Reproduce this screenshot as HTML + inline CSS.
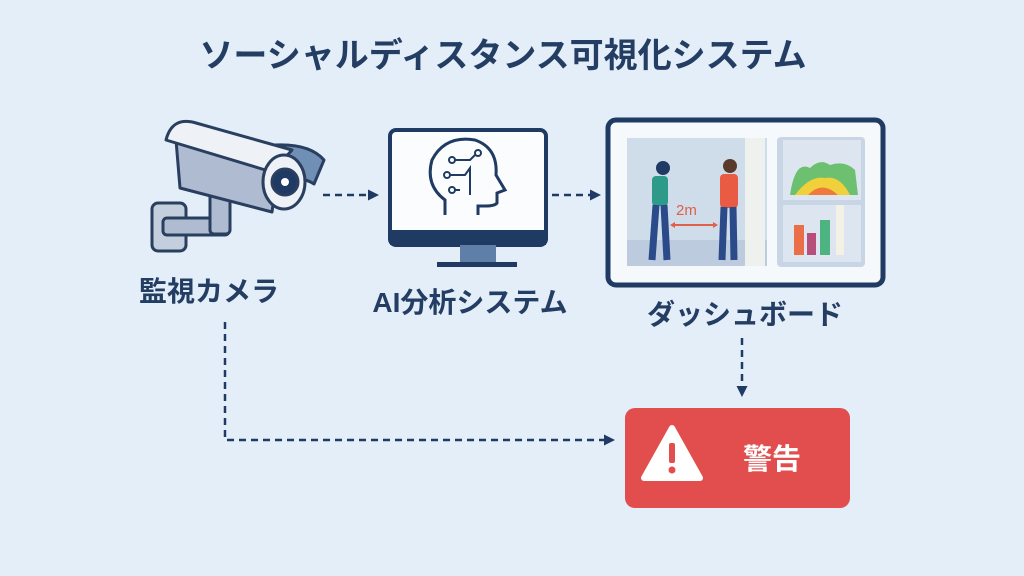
<!DOCTYPE html>
<html><head><meta charset="utf-8"><style>
body{margin:0;width:1024px;height:576px;overflow:hidden;background:#e3eef9;font-family:"Liberation Sans","Noto Sans CJK JP",sans-serif;}
.t{position:absolute;font-weight:bold;color:#243d63;white-space:nowrap;transform:translateX(-50%);}
</style></head><body>
<div class="t" style="left:503px;top:28px;font-size:34px;">ソーシャルディスタンス可視化システム</div>
<div class="t" style="left:209px;top:270px;font-size:28px;">監視カメラ</div>
<div class="t" style="left:470px;top:281px;font-size:28px;">AI分析システム</div>
<div class="t" style="left:745px;top:293px;font-size:28px;">ダッシュボード</div>
<svg width="1024" height="576" style="position:absolute;left:0;top:0">
<defs><marker id="a" markerWidth="11" markerHeight="11" refX="8" refY="5.5" orient="auto" markerUnits="userSpaceOnUse"><path d="M0,0 L11,5.5 L0,11Z" fill="#1f3a63"/></marker></defs>
<g stroke="#1f3a63" stroke-width="2.5" fill="none" stroke-dasharray="7,5">
<line x1="323" y1="195" x2="376" y2="195" marker-end="url(#a)"/>
<line x1="552" y1="195" x2="598" y2="195" marker-end="url(#a)"/>
<line x1="742" y1="338" x2="742" y2="394" marker-end="url(#a)"/>
<path d="M225 322 V440 H612" marker-end="url(#a)"/>
</g>
<!-- camera -->
<g stroke="#2a3f5f" stroke-width="3" stroke-linejoin="round">
<rect x="152" y="203" width="34" height="48" rx="6" fill="#c4cfdd"/>
<rect x="163" y="218" width="66" height="17" rx="4" fill="#aebbd0"/>
<rect x="210" y="186" width="20" height="48" rx="4" fill="#aebbd0"/>
<path d="M176 140 L278 168 L272 212 L180 188Z" fill="#aebbd0"/>
<path d="M250 148 Q305 138 324 160 L314 184 Q302 176 292 182Z" fill="#6f8fb5"/>
<path d="M166 140 Q172 116 196 123 L292 150 L272 172Z" fill="#eef2f7"/>
<ellipse cx="284" cy="182" rx="21" ry="27" fill="#eef2f7"/>
<circle cx="285" cy="182" r="13" fill="#1f3a63"/>
</g>
<circle cx="285" cy="182" r="4" fill="#fff"/>
<!-- monitor -->
<rect x="390" y="130" width="156" height="115" rx="6" fill="#fafcfe" stroke="#1f3a63" stroke-width="4"/>
<rect x="390" y="230" width="156" height="15" fill="#1f3a63"/>
<rect x="460" y="245" width="36" height="18" fill="#5f7fa8"/>
<rect x="437" y="262" width="80" height="5" fill="#1f3a63"/>
<path d="M445 215 V200 Q425 185 432 160 Q445 135 475 140 Q498 148 496 175 L505 190 L497 193 V203 Q495 206 485 206 H478 V215" fill="none" stroke="#1f3a63" stroke-width="3"/>
<g stroke="#1f3a63" stroke-width="2" fill="none"><path d="M455 160 H470 L475 155 M450 175 H465 L470 168 V195 M455 190 H460"/><circle cx="452" cy="160" r="3"/><circle cx="478" cy="153" r="3"/><circle cx="447" cy="175" r="3"/><circle cx="452" cy="190" r="3"/></g>
<!-- dashboard -->
<rect x="608" y="120" width="275" height="165" rx="8" fill="#f6f9fc" stroke="#1f3a63" stroke-width="5"/>
<rect x="627" y="138" width="140" height="128" fill="#cfdcea"/>
<rect x="627" y="240" width="140" height="26" fill="#bccbdd"/>
<rect x="745" y="138" width="20" height="128" fill="#eef1ee"/>
<rect x="777" y="137" width="88" height="130" rx="4" fill="#c8d5e5"/>
<rect x="783" y="140" width="78" height="60" fill="#dde6f0"/>
<rect x="783" y="205" width="78" height="57" fill="#dde6f0"/>
<path d="M790 195 Q795 160 810 168 Q820 158 830 165 Q845 160 855 170 L858 195Z" fill="#6cc070"/>
<path d="M795 195 Q810 175 825 178 Q840 175 850 195Z" fill="#f0d13c"/>
<path d="M808 195 Q822 180 838 195Z" fill="#ef7a3c"/>
<rect x="794" y="225" width="10" height="30" fill="#ea6f48"/>
<rect x="807" y="233" width="9" height="22" fill="#b84e7a"/>
<rect x="820" y="220" width="10" height="35" fill="#4db381"/>
<rect x="836" y="205" width="8" height="50" fill="#f3f0e6"/>
<circle cx="663" cy="168" r="7" fill="#1f3a63"/><rect x="652" y="176" width="16" height="30" rx="4" fill="#2e9a8a"/><path d="M656 205 L652 260 M664 205 L667 260" stroke="#2a4a8a" stroke-width="7"/>
<circle cx="730" cy="166" r="7" fill="#5a3a2a"/><rect x="720" y="174" width="18" height="34" rx="4" fill="#ea5b43"/><path d="M724 207 L722 260 M733 207 L734 260" stroke="#2a4a8a" stroke-width="7"/>
<text x="676" y="215" fill="#e0604a" font-size="15" font-family="Liberation Sans">2m</text>
<path d="M672 225 H716" stroke="#e0604a" stroke-width="2"/><path d="M670 225 l5 -3 v6z M718 225 l-5 -3 v6z" fill="#e0604a"/>
<!-- alert -->
<rect x="625" y="408" width="225" height="100" rx="10" fill="#e24d4d"/>
<path d="M672 428 L700 478 L644 478Z" fill="#fff" stroke="#fff" stroke-width="6" stroke-linejoin="round"/>
<rect x="669" y="443" width="6" height="20" rx="2" fill="#e24d4d"/><circle cx="672" cy="470" r="3.5" fill="#e24d4d"/>
<text x="772" y="469" fill="#fff" font-size="29" font-weight="bold" text-anchor="middle" font-family="Liberation Sans,Noto Sans CJK JP,sans-serif">警告</text>
</svg>
</body></html>
